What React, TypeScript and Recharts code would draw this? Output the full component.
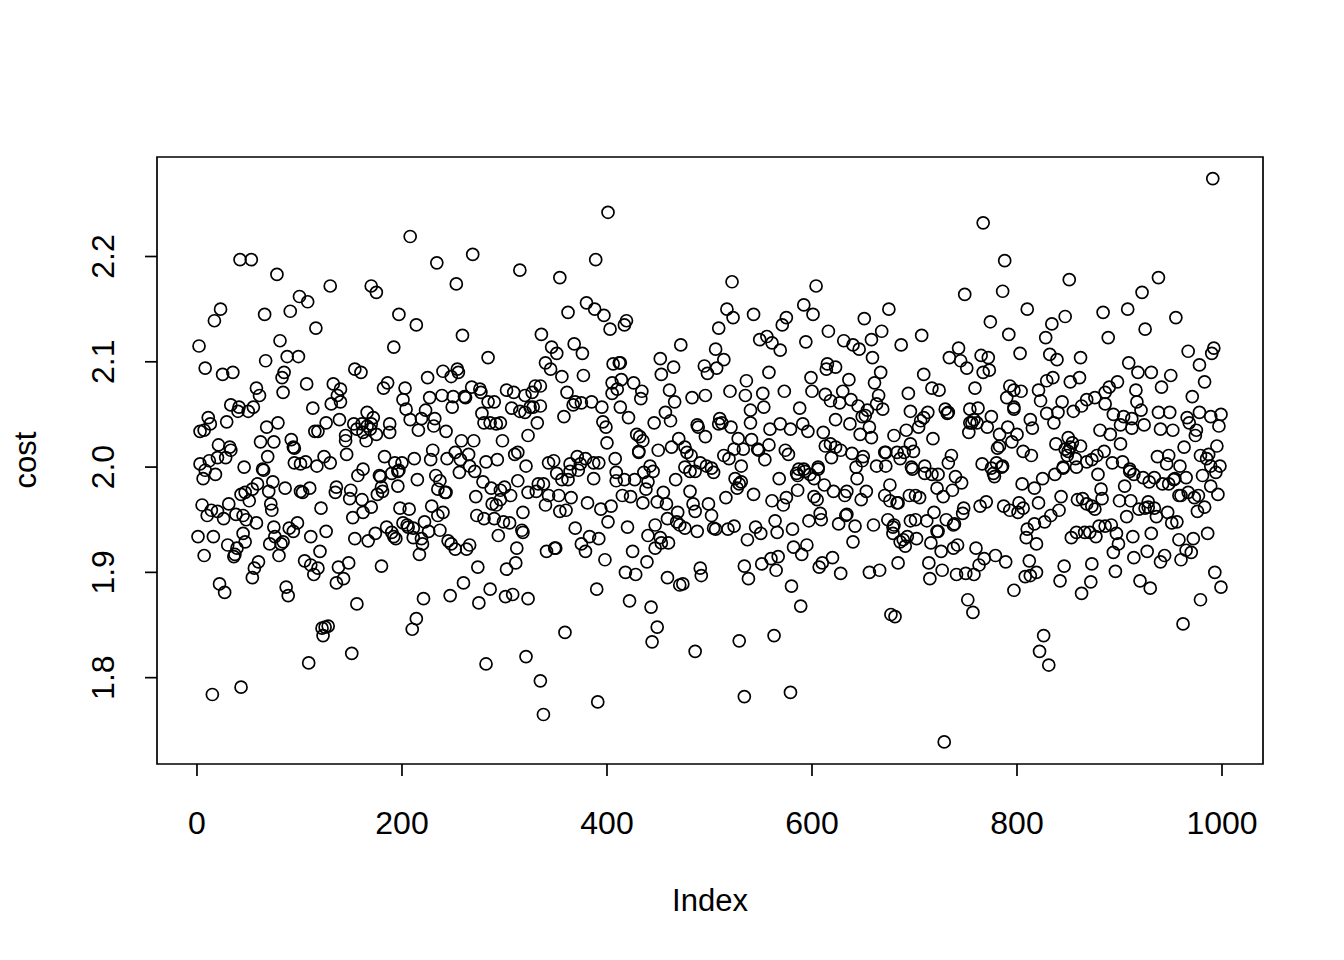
import { ScatterChart, Scatter, XAxis, YAxis, ReferenceArea } from "recharts"

// values, grouped by panel (left to right, upper then lower)
const idx1 = [42,53,78,130,100,108,23,17,66,91,116,81,2,88,99,67,8,25,35,85,83,107,133,58,61,84,140,137,33,131,140,41,40,50,55,113,11,13,7,3,29,79,68,126,139,115,118,145,145,62,75,92,94,95,21,32,33,28,20,69,124,146,12,3,46,64,95,101,106,117,130]
const cost1 = [2.197,2.197,2.183,2.172,2.162,2.157,2.150,2.139,2.145,2.148,2.132,2.120,2.115,2.105,2.105,2.101,2.094,2.088,2.090,2.090,2.085,2.079,2.079,2.075,2.068,2.071,2.074,2.068,2.059,2.060,2.062,2.057,2.053,2.053,2.057,2.056,2.047,2.041,2.035,2.034,2.043,2.042,2.038,2.042,2.045,2.034,2.034,2.030,2.025,2.024,2.024,2.026,2.019,2.018,2.021,2.019,2.016,2.009,2.009,2.010,2.010,2.012,2.006,2.003,2.000,1.998,2.004,2.003,2.005,2.001,2.004]

const idx2 = [8,18,6,65,74,59,54,47,43,70,86,101,103,110,136,135,51,31,5,121,72,73,14,20,10,26,38,45,48,58,75,98,90,94,111,126,1,16,45,76,30,47,71,84,82,39,37,36,7,80,120,105,111,118,114,60,56,54,138,136,22,27,87,89,128,125,122,123,109,43,15]
const cost2 = [1.997,1.993,1.989,1.997,1.986,1.984,1.979,1.976,1.974,1.977,1.980,1.977,1.976,1.980,1.981,1.976,1.968,1.965,1.964,1.961,1.965,1.959,1.959,1.958,1.954,1.951,1.955,1.954,1.950,1.947,1.943,1.947,1.942,1.939,1.934,1.939,1.934,1.934,1.937,1.934,1.926,1.929,1.927,1.929,1.927,1.923,1.917,1.915,1.916,1.916,1.920,1.911,1.907,1.904,1.898,1.910,1.904,1.895,1.905,1.890,1.889,1.881,1.886,1.878,1.849,1.848,1.847,1.840,1.814,1.791,1.784]

const idx3 = [208,269,234,315,253,170,175,197,214,259,192,284,154,160,240,254,255,248,225,186,182,203,268,276,277,302,309,320,227,201,239,250,261,262,284,290,249,307,204,223,315,320,166,172,278,208,219,232,188,153,231,280,286,292,296,161,166,170,156,162,169,175,188,216,243,323,165,258,270,298,313,310,230,252,265,183,212,228,244,257,282,293,193,200,266,162,321]
const cost3 = [2.219,2.202,2.194,2.187,2.174,2.172,2.166,2.145,2.135,2.125,2.114,2.104,2.093,2.090,2.091,2.093,2.090,2.086,2.085,2.080,2.075,2.075,2.076,2.074,2.071,2.073,2.071,2.068,2.066,2.064,2.068,2.067,2.067,2.066,2.062,2.062,2.057,2.056,2.055,2.054,2.053,2.052,2.052,2.047,2.051,2.045,2.046,2.046,2.041,2.041,2.039,2.042,2.042,2.041,2.042,2.041,2.039,2.041,2.036,2.033,2.036,2.031,2.033,2.035,2.034,2.030,2.025,2.025,2.025,2.025,2.014,2.012,2.016,2.014,2.012,2.010,2.008,2.007,2.008,2.007,2.005,2.007,2.004,2.004,2.001,1.998,2.001]

const idx4 = [157,178,179,197,196,190,215,196,233,237,256,271,279,313,287,300,296,306,323,235,242,243,180,181,176,150,149,161,170,162,152,272,296,288,292,198,207,229,240,235,318,273,280,290,299,305,222,201,205,206,211,185,174,190,192,194,154,167,226,237,317,318,294,211,219,220,217,245,248,252,266,263,312,311,302,274,180,148,143,260,286,308,301,247,275,221,156,323,214,210,151,282,321]
const cost4 = [1.992,1.992,1.991,1.997,1.996,1.994,1.988,1.982,1.992,1.987,1.995,1.996,1.986,1.987,1.980,1.981,1.978,1.973,1.976,1.979,1.976,1.976,1.981,1.977,1.974,1.978,1.970,1.969,1.962,1.957,1.952,1.972,1.969,1.965,1.964,1.961,1.960,1.963,1.957,1.954,1.957,1.954,1.951,1.951,1.948,1.947,1.948,1.947,1.945,1.943,1.942,1.943,1.937,1.938,1.934,1.932,1.932,1.930,1.939,1.940,1.940,1.938,1.935,1.933,1.932,1.927,1.917,1.930,1.927,1.922,1.926,1.922,1.923,1.909,1.903,1.905,1.906,1.909,1.894,1.890,1.884,1.879,1.877,1.878,1.871,1.875,1.870,1.875,1.856,1.846,1.823,1.813,1.820]

const idx5 = [401,389,354,380,388,362,397,403,419,417,336,346,351,368,376,472,452,340,345,356,377,406,412,413,465,453,495,498,330,335,327,414,405,426,434,433,410,405,361,461,466,483,496,369,375,385,367,395,413,335,328,325,358,332,421,457,462,446,396,399,488,489,429,432,435,496,470,400,431,431,463,450,476,478,482,408,371,348,343,364,379,392,387,374,442,476,491,497]
const cost5 = [2.242,2.197,2.180,2.156,2.150,2.147,2.144,2.131,2.139,2.135,2.126,2.114,2.108,2.117,2.108,2.116,2.103,2.099,2.093,2.086,2.087,2.098,2.099,2.099,2.095,2.088,2.096,2.089,2.077,2.077,2.071,2.083,2.080,2.080,2.072,2.065,2.074,2.070,2.071,2.073,2.062,2.066,2.068,2.062,2.061,2.062,2.059,2.057,2.057,2.058,2.057,2.057,2.048,2.042,2.047,2.052,2.044,2.042,2.043,2.038,2.040,2.038,2.031,2.029,2.025,2.029,2.027,2.023,2.015,2.014,2.019,2.016,2.019,2.014,2.011,2.008,2.010,2.006,2.004,2.003,2.008,2.004,2.004,2.003,2.001,2.000,2.004,2.001]

const idx6 = [351,364,372,356,362,387,409,409,417,427,436,445,440,438,467,481,486,333,338,481,455,331,343,353,365,415,423,340,381,404,394,360,354,435,449,458,484,499,486,469,459,401,468,471,476,447,369,420,488,504,440,452,383,392,375,453,460,447,349,350,341,379,425,398,439,418,428,459,491,492,471,474,390,422,443,449,359,444,486,335,391,338]
const cost6 = [1.994,1.996,1.997,1.988,1.988,1.989,1.995,1.987,1.988,1.988,1.995,1.996,1.986,1.979,1.988,1.996,1.996,1.984,1.984,1.977,1.976,1.977,1.973,1.973,1.971,1.973,1.972,1.964,1.966,1.963,1.960,1.959,1.958,1.966,1.967,1.965,1.965,1.965,1.958,1.957,1.951,1.948,1.948,1.945,1.942,1.945,1.942,1.943,1.939,1.942,1.935,1.933,1.934,1.932,1.927,1.928,1.928,1.923,1.923,1.923,1.920,1.920,1.920,1.912,1.910,1.900,1.898,1.895,1.904,1.897,1.888,1.889,1.884,1.873,1.867,1.848,1.843,1.834,1.825,1.797,1.777,1.765]

const idx7 = [522,604,517,523,543,592,601,575,571,675,651,509,616,668,556,549,561,569,594,631,640,646,658,506,514,659,507,615,614,623,558,667,599,636,536,661,520,573,600,552,535,613,630,665,638,618,627,553,588,540,645,663,669,654,652,649,623,510,512,509,540,521,569,591,637,559,579,596,611,656,647,658,680,528,541,558,613,618,547,548,524,533,574,577,623,628,639,672,671,514,519,554,619,650,649,663,672,531,606,592,587]
const cost7 = [2.176,2.172,2.150,2.142,2.145,2.154,2.145,2.142,2.135,2.150,2.141,2.132,2.129,2.129,2.124,2.121,2.118,2.111,2.119,2.120,2.116,2.112,2.121,2.112,2.102,2.104,2.094,2.098,2.093,2.095,2.090,2.090,2.085,2.083,2.082,2.080,2.072,2.072,2.072,2.070,2.068,2.069,2.072,2.068,2.064,2.063,2.061,2.057,2.056,2.054,2.058,2.060,2.055,2.054,2.049,2.048,2.045,2.046,2.042,2.041,2.042,2.038,2.041,2.041,2.041,2.036,2.036,2.034,2.033,2.038,2.031,2.028,2.030,2.027,2.026,2.021,2.020,2.022,2.017,2.016,2.017,2.017,2.016,2.012,2.019,2.016,2.013,2.014,2.014,2.011,2.008,2.007,2.009,2.010,2.006,2.001,2.001,2.001,2.000,1.998,1.998]

const idx8 = [502,504,643,525,531,529,527,568,585,586,593,598,606,602,644,586,612,621,634,632,653,676,671,676,683,648,602,605,543,516,561,575,572,502,608,609,634,633,564,597,626,642,660,674,680,679,506,518,524,545,550,566,581,679,537,640,686,582,595,590,567,560,551,534,565,538,620,610,607,628,656,666,684,580,589,677,681,563,529,579,534]
const cost8 = [1.999,1.995,2.000,1.989,1.986,1.984,1.980,1.989,1.994,1.992,1.996,1.993,1.998,1.989,1.989,1.978,1.983,1.977,1.977,1.973,1.977,1.983,1.973,1.968,1.966,1.969,1.972,1.969,1.974,1.971,1.968,1.971,1.964,1.954,1.956,1.950,1.955,1.954,1.949,1.949,1.946,1.944,1.945,1.950,1.945,1.943,1.941,1.941,1.944,1.943,1.937,1.938,1.941,1.937,1.931,1.929,1.929,1.924,1.926,1.917,1.915,1.913,1.908,1.906,1.902,1.894,1.914,1.909,1.905,1.899,1.900,1.902,1.909,1.887,1.868,1.860,1.858,1.840,1.835,1.786,1.782]

const idx9 = [767,788,851,786,749,810,847,834,774,792,828,707,687,743,803,832,839,862,734,745,765,772,751,773,767,709,835,829,861,852,717,724,759,694,793,797,804,821,790,823,844,863,855,840,829,754,762,797,797,730,733,732,696,713,709,706,775,813,836,758,754,756,761,771,815,704,692,791,753,783,800,718,850,696,795,838,854,862,783,781,699,690,847,850,852,806,814,736,849,857,733,683,686,766,780,786,710,697,845]
const cost9 = [2.232,2.196,2.178,2.167,2.164,2.150,2.143,2.136,2.138,2.126,2.123,2.125,2.116,2.113,2.108,2.107,2.102,2.104,2.104,2.101,2.106,2.104,2.094,2.092,2.090,2.088,2.085,2.082,2.085,2.081,2.075,2.073,2.075,2.070,2.077,2.073,2.072,2.073,2.066,2.063,2.062,2.058,2.053,2.052,2.051,2.055,2.056,2.057,2.055,2.055,2.052,2.051,2.053,2.052,2.047,2.044,2.048,2.045,2.042,2.045,2.042,2.042,2.042,2.038,2.037,2.038,2.035,2.038,2.033,2.031,2.031,2.027,2.028,2.022,2.024,2.022,2.023,2.020,2.020,2.018,2.015,2.014,2.017,2.015,2.019,2.015,2.011,2.011,2.011,2.008,2.004,2.014,2.008,2.003,2.004,2.001,2.001,2.000,2.000]

const idx10 = [698,710,717,723,740,746,722,737,728,695,701,705,684,775,785,777,778,805,817,825,837,845,858,770,764,748,747,787,793,802,806,801,821,843,859,841,833,827,817,810,809,819,719,712,701,696,731,738,739,722,723,693,689,691,702,716,726,742,738,760,768,779,789,763,812,819,813,808,858,853,866,846,842,863,714,727,715,741,750,758,797,752,757,826,822,831,729]
const cost10 = [1.998,1.994,1.993,1.993,1.991,1.985,1.980,1.978,1.972,1.973,1.973,1.971,1.966,1.999,2.000,1.994,1.991,1.984,1.980,1.989,1.993,1.999,2.000,1.967,1.963,1.961,1.956,1.963,1.959,1.966,1.961,1.957,1.966,1.972,1.969,1.959,1.954,1.948,1.946,1.941,1.933,1.927,1.957,1.949,1.950,1.949,1.950,1.945,1.946,1.939,1.939,1.934,1.931,1.925,1.932,1.928,1.920,1.926,1.923,1.923,1.913,1.916,1.910,1.907,1.911,1.900,1.897,1.896,1.938,1.933,1.938,1.906,1.892,1.880,1.909,1.902,1.894,1.898,1.899,1.898,1.883,1.874,1.862,1.840,1.825,1.812,1.739]

const idx11 = [991,938,922,908,884,955,925,889,992,990,967,978,909,918,931,950,983,941,898,890,886,916,971,917,876,868,886,921,938,949,978,989,999,894,904,912,901,912,924,966,968,997,940,952,975,974,881,891,901,995,963,885,878,873,868,937,948,979,987,985,893,903,946,959,998,910,989]
const cost11 = [2.274,2.180,2.166,2.150,2.147,2.142,2.131,2.123,2.113,2.108,2.110,2.097,2.099,2.090,2.090,2.087,2.081,2.076,2.081,2.076,2.071,2.073,2.067,2.062,2.066,2.064,2.060,2.054,2.052,2.052,2.052,2.048,2.050,2.050,2.048,2.046,2.040,2.037,2.040,2.047,2.042,2.039,2.036,2.035,2.035,2.030,2.035,2.031,2.022,2.020,2.019,2.015,2.011,2.007,2.005,2.010,2.011,2.011,2.012,2.008,2.004,2.005,2.003,2.001,2.001,1.998,2.001]

const idx12 = [994,981,879,910,914,923,929,934,905,882,942,948,953,954,965,989,996,977,967,973,958,960,883,864,868,873,876,900,911,928,928,919,925,934,936,947,983,976,907,951,956,880,886,892,871,877,897,899,913,931,986,958,972,894,927,914,944,940,965,970,960,873,896,993,872,920,930,999,979,962]
const cost12 = [1.995,1.992,1.993,1.996,1.993,1.990,1.986,1.990,1.982,1.979,1.984,1.984,1.988,1.989,1.990,1.982,1.974,1.973,1.976,1.971,1.973,1.973,1.970,1.970,1.965,1.963,1.960,1.968,1.968,1.967,1.962,1.960,1.961,1.961,1.953,1.957,1.962,1.958,1.953,1.947,1.948,1.944,1.944,1.945,1.938,1.934,1.937,1.927,1.934,1.937,1.937,1.931,1.932,1.919,1.920,1.914,1.916,1.910,1.921,1.919,1.912,1.908,1.901,1.900,1.891,1.892,1.885,1.886,1.874,1.851]

const index = [idx1, idx2, idx3, idx4, idx5, idx6, idx7, idx8, idx9, idx10, idx11, idx12].flat()
const cost = [cost1, cost2, cost3, cost4, cost5, cost6, cost7, cost8, cost9, cost10, cost11, cost12].flat()

const xTicks = [0, 200, 400, 600, 800, 1000]
const yTicks = [1.8, 1.9, 2.0, 2.1, 2.2]

const FONT = '"Liberation Sans", Arial, sans-serif'
const points = index.map((x, i) => ({ x, y: cost[i] }))

function Ring({ cx, cy }: any) {
  return <circle cx={cx} cy={cy} r={6} fill="none" stroke="#000" strokeWidth={1.7} />
}

function XTick({ x, payload }: any) {
  return (
    <text x={x} y={823} textAnchor="middle" dominantBaseline="central" fontSize={32} fontFamily={FONT} fill="#000">
      {payload.value}
    </text>
  )
}

function YTick({ y, payload }: any) {
  return (
    <text
      x={103}
      y={y}
      transform={`rotate(-90 103 ${y})`}
      textAnchor="middle"
      dominantBaseline="central"
      fontSize={32}
      fontFamily={FONT}
      fill="#000"
    >
      {payload.value.toFixed(1)}
    </text>
  )
}

export default function App() {
  return (
    <div style={{ position: "absolute", left: 0, top: 0, width: 1344, height: 960, background: "#fff" }}>
      <ScatterChart width={1344} height={960} margin={{ top: 157, right: 81, bottom: 136, left: 97 }}>
        <XAxis
          type="number"
          dataKey="x"
          domain={[-39, 1040]}
          ticks={xTicks}
          height={60}
          interval={0}
          tickSize={12}
          tick={<XTick />}
          stroke="#000"
          tickLine={{ stroke: "#000", strokeWidth: 1.7 }}
          axisLine={false}
          allowDataOverflow
        />
        <YAxis
          type="number"
          dataKey="y"
          domain={[1.718, 2.2945]}
          ticks={yTicks}
          width={60}
          interval={0}
          tickSize={12}
          tick={<YTick />}
          stroke="#000"
          tickLine={{ stroke: "#000", strokeWidth: 1.7 }}
          axisLine={false}
          allowDataOverflow
        />
        <ReferenceArea x1={-39} x2={1040} y1={1.718} y2={2.2945} fill="none" stroke="#000" strokeWidth={1.7} />
        <Scatter data={points} shape={<Ring />} isAnimationActive={false} />
        <text x={710} y={900} textAnchor="middle" dominantBaseline="central" fontSize={31} fontFamily={FONT} fill="#000">
          Index
        </text>
        <text
          x={25}
          y={460}
          transform="rotate(-90 25 460)"
          textAnchor="middle"
          dominantBaseline="central"
          fontSize={31}
          fontFamily={FONT}
          fill="#000"
        >
          cost
        </text>
      </ScatterChart>
    </div>
  )
}
